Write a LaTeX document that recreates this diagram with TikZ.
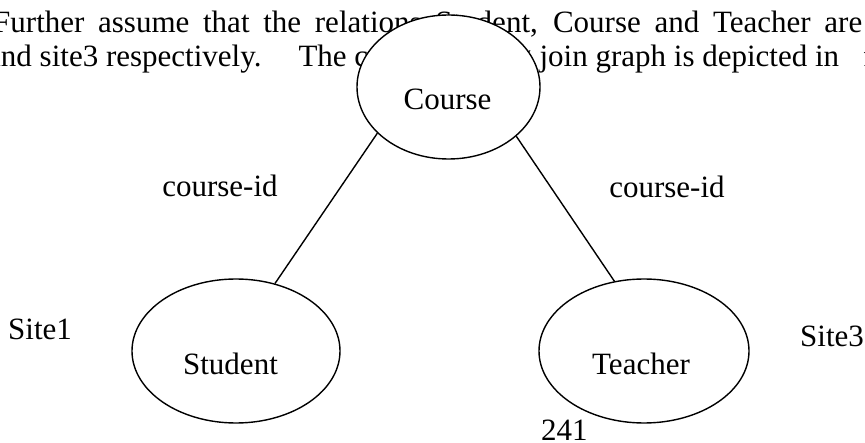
\documentclass[tikz,border=0pt]{standalone}
\usepackage{fontspec}
\setmainfont{Liberation Serif}
\usetikzlibrary{shapes.geometric}
\begin{document}
\begin{tikzpicture}[x=1pt,y=-1pt,
  rel/.style={draw, ellipse, line width=1.4pt, fill=white, inner sep=0pt},
  txt/.style={inner sep=0pt, anchor=base, font=\fontsize{31}{36}\selectfont},
  edge/.style={line width=1.4pt}]
\useasboundingbox (0,0) rectangle (865,443);
\clip (0,0) rectangle (865,443);

% paragraph text running behind the graph
\node[txt, anchor=base west] (line1) at (-7,33)
  {\makebox[869pt][s]{Further assume that the relations Student, Course and Teacher are}};
\node[txt, anchor=base west] (line2) at (-13,67)
  {and site3 respectively.\hspace{37pt}The corresponding join graph is depicted in\hspace{24pt}figure};

% relations
\node[rel, minimum width=183pt, minimum height=144pt] (course) at (448.5,87) {};
\node[rel, minimum width=208pt, minimum height=144pt] (student) at (236,351) {};
\node[rel, minimum width=210pt, minimum height=144pt] (teacher) at (644,351) {};

\node[txt] (coursetxt) at (447.5,110) {Course};
\node[txt] (studenttxt) at (230.5,375) {Student};
\node[txt] (teachertxt) at (641,375) {Teacher};

% join edges
\draw[edge] (course.213) -- (student.60);
\draw[edge] (course.324.5) -- (teacher.113);

\node[txt] (lblleft) at (220,197) {course-id};
\node[txt] (lblright) at (667,198) {course-id};

% sites and page number
\node[txt, anchor=base west] (site1) at (8,340) {Site1};
\node[txt, anchor=base west] (site3) at (800,347) {Site3};
\node[txt, anchor=base west] (pageno) at (541,440) {241};
\end{tikzpicture}
\end{document}
